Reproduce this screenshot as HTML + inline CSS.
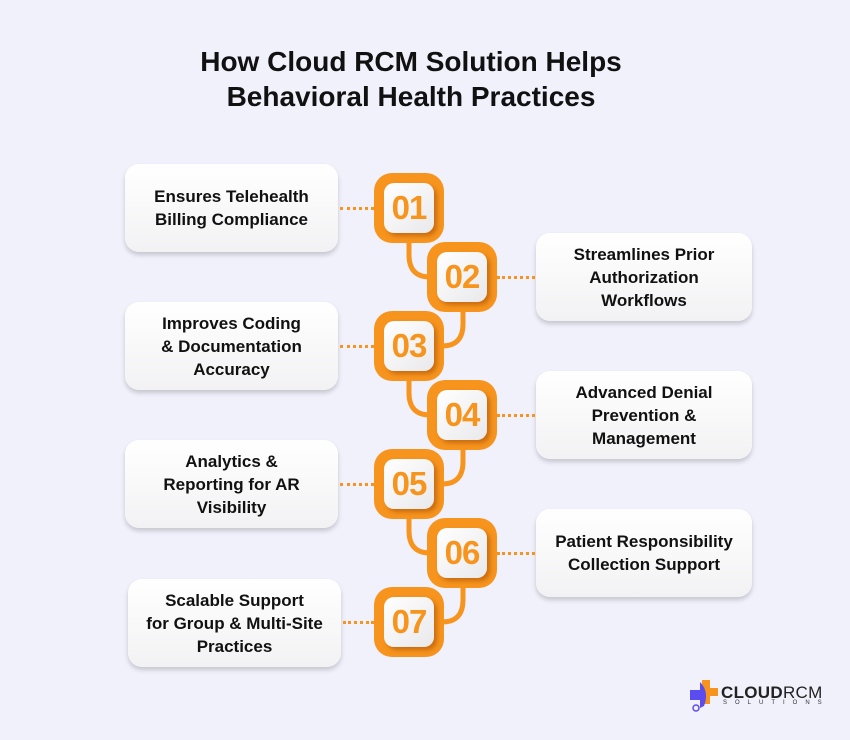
<!DOCTYPE html>
<html><head><style>
body{margin:0;width:850px;height:740px;background:#f1f1fc;font-family:"Liberation Sans",sans-serif;position:relative;overflow:hidden}
.t{position:absolute;left:0;width:822px;text-align:center;font-weight:bold;font-size:28px;color:#111;line-height:35px;top:44px}
.c{position:absolute;width:213px;height:88px;background:linear-gradient(#fff,#f2f2f4);border-radius:14px;box-shadow:0 3px 5px rgba(0,0,0,.18);display:flex;align-items:center;justify-content:center;text-align:center;font-weight:bold;font-size:17px;line-height:23px;color:#111}
.b{position:absolute;width:70px;height:70px;background:#f7941d;border-radius:18px;box-sizing:border-box;padding:10px}
.b div{width:50px;height:50px;border-radius:10px;background:linear-gradient(135deg,#fff,#e9e9ec);box-shadow:3px 3px 4px rgba(160,70,0,.5);color:#f7941d;font-weight:bold;font-size:33px;line-height:50px;text-align:center;letter-spacing:-1px}
.d{position:absolute;height:0;border-top:3px dotted #f7941d}
</style></head><body>
<div class="t">How Cloud RCM Solution Helps<br>Behavioral Health Practices</div>
<svg width="850" height="740" style="position:absolute;left:0;top:0" fill="none" stroke="#f7941d" stroke-width="5">
<path d="M409 243 V255 Q409 277 430 277"/>
<path d="M463 311 V324 Q463 346 442 346"/>
<path d="M409 381 V393 Q409 415 430 415"/>
<path d="M463 449 V462 Q463 484 442 484"/>
<path d="M409 519 V531 Q409 553 430 553"/>
<path d="M463 587 V600 Q463 622 442 622"/>
</svg>
<div class="c" style="left:125px;top:164px">Ensures Telehealth<br>Billing Compliance</div>
<div class="c" style="left:125px;top:302px">Improves Coding<br>&amp; Documentation<br>Accuracy</div>
<div class="c" style="left:125px;top:440px">Analytics &amp;<br>Reporting for AR<br>Visibility</div>
<div class="c" style="left:128px;top:579px">Scalable Support<br>for Group &amp; Multi-Site<br>Practices</div>
<div class="c" style="left:536px;top:233px;width:216px">Streamlines Prior<br>Authorization<br>Workflows</div>
<div class="c" style="left:536px;top:371px;width:216px">Advanced Denial<br>Prevention &amp;<br>Management</div>
<div class="c" style="left:536px;top:509px;width:216px">Patient Responsibility<br>Collection Support</div>
<div class="d" style="left:340px;width:34px;top:207px"></div>
<div class="d" style="left:340px;width:34px;top:345px"></div>
<div class="d" style="left:340px;width:34px;top:483px"></div>
<div class="d" style="left:343px;width:31px;top:621px"></div>
<div class="d" style="left:497px;width:38px;top:276px"></div>
<div class="d" style="left:497px;width:38px;top:414px"></div>
<div class="d" style="left:497px;width:38px;top:552px"></div>
<div class="b" style="left:374px;top:173px"><div>01</div></div>
<div class="b" style="left:427px;top:242px"><div>02</div></div>
<div class="b" style="left:374px;top:311px"><div>03</div></div>
<div class="b" style="left:427px;top:380px"><div>04</div></div>
<div class="b" style="left:374px;top:449px"><div>05</div></div>
<div class="b" style="left:427px;top:518px"><div>06</div></div>
<div class="b" style="left:374px;top:587px"><div>07</div></div>
<svg width="30" height="36" style="position:absolute;left:688px;top:678px">
<path d="M14 2 h8 v8 h8 v8 h-8 v8 h-8z" fill="#f7941d"/>
<path d="M2 12 h10 v-8 c6 6 8 14 4 24 l-4 2 v-8 h-10z" fill="#5b4cf0"/>
<circle cx="8" cy="30" r="3" fill="none" stroke="#5b4cf0" stroke-width="1.5"/>
</svg>
<div style="position:absolute;left:721px;top:683px;font-size:17px;font-weight:bold;color:#222;letter-spacing:0.3px">CLOUD<span style="font-weight:normal">RCM</span></div>
<div style="position:absolute;left:723px;top:700px;font-size:6px;color:#333;letter-spacing:8px">SOLUTIONS</div>
</body></html>
